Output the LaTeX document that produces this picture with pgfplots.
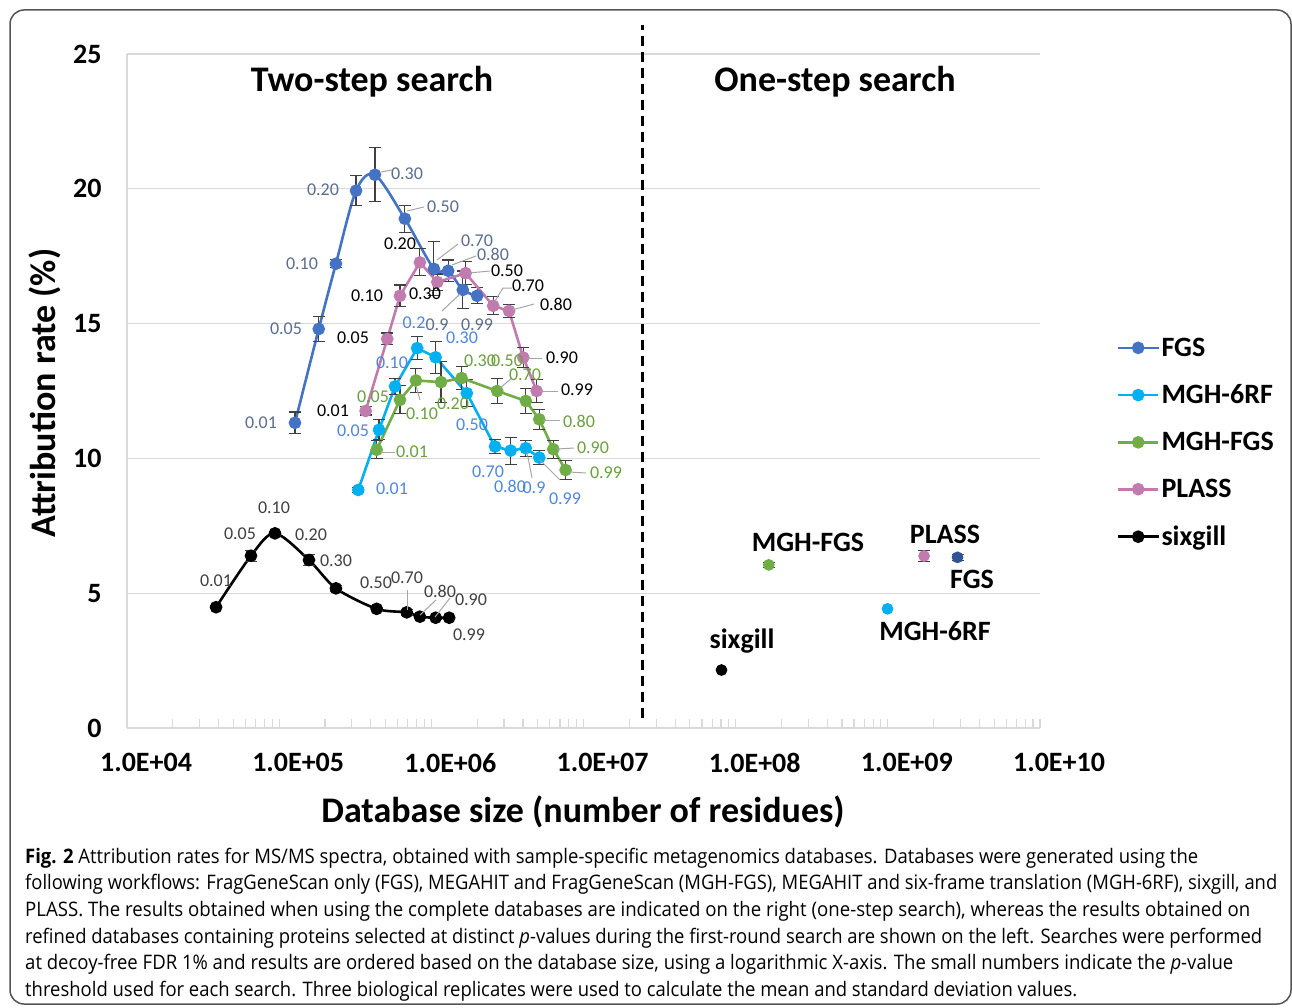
\documentclass[border=0pt]{standalone}
\usepackage{fontspec}
\usepackage{graphicx}
\usepackage{pgfplots}
\pgfplotsset{compat=1.18}
\setmainfont{Carlito}
\newfontfamily\capfont{Open Sans}
\definecolor{cfgs}{HTML}{4472C4}
\definecolor{cfgsd}{HTML}{2F5597}
\definecolor{c6rf}{HTML}{00B0F0}
\definecolor{cmgf}{HTML}{70AD47}
\definecolor{cpl}{HTML}{C27BAE}
\definecolor{lfgs}{HTML}{5A6D8E}
\definecolor{l6rf}{HTML}{4F86DC}
\definecolor{lmgf}{HTML}{6AA03E}
\definecolor{lsix}{HTML}{404040}
\definecolor{gridc}{HTML}{D9D9D9}
\definecolor{errg}{HTML}{404040}
\definecolor{leadc}{HTML}{A6A6A6}
\definecolor{borderc}{HTML}{555555}
\begin{document}
\begin{tikzpicture}
\begin{scope}[x=1pt,y=-1pt]
\useasboundingbox (0,0) rectangle (1292,1008);
\draw[borderc, line width=1.5pt, rounded corners=14pt] (10,10) rectangle (1291,1004);
\end{scope}
\begin{axis}[
  at={(127pt,-728pt)}, anchor=south west,
  scale only axis, width=913pt, height=674pt,
  xmode=log, xmin=1e4, xmax=1e10, ymin=0, ymax=25,
  clip=false,
  axis x line*=bottom, axis y line*=left,
  axis line style={draw=gridc, line width=1.2pt},
  xtick={1e4,1e5,1e6,1e7,1e8,1e9,1e10},
  xticklabels={1.0E+04,1.0E+05,1.0E+06,1.0E+07,1.0E+08,1.0E+09,1.0E+10},
  minor x tick num=8,
  xtick align=inside,
  major tick length=9pt, minor tick length=9pt,
  x tick style={draw=gridc, line width=1.2pt},
  ytick={0,5,10,15,20,25},
  y tick style={draw=none},
  ymajorgrids, major grid style={draw=gridc, line width=1.2pt},
  tick label style={font=\fontsize{28}{30}\selectfont\bfseries},
  /pgf/number format/assume math mode=true,
  xticklabel style={xshift=19pt, yshift=-22pt},
  yticklabel style={xshift=-22pt},
  legend style={at={(1.084,0.582)}, anchor=north west, draw=none, fill=none,
    font=\fontsize{28}{30}\selectfont\bfseries, row sep=23pt, inner sep=0pt,
    legend cell align=left},
  legend image code/.code={\draw[mark repeat=2,mark phase=2,#1] plot coordinates {(0pt,0pt) (20pt,0pt) (40pt,0pt)};},
  every axis plot/.append style={line width=2.6pt},
  error bars/error bar style={line width=1.1pt, color=errg, solid},
  error bars/error mark options={rotate=90, mark size=6pt, line width=1.1pt, color=errg},
]
\addplot[color=cfgs, smooth, mark=*, mark size=5pt, mark options={solid},
  error bars/.cd, y dir=both, y explicit]
  table[x=x, y=y, y error=e] {
x y e
1.27e5 11.32 0.40
1.82e5 14.80 0.45
2.36e5 17.22 0.15
3.20e5 19.93 0.55
4.26e5 20.52 1.00
6.70e5 18.89 0.50
1.04e6 17.03 1.00
1.29e6 16.96 0.40
1.61e6 16.25 0.70
2.00e6 16.03 0.30
};
\addlegendentry{FGS}
\addplot[color=c6rf, mark=*, mark size=5pt,
  error bars/.cd, y dir=both, y explicit]
  table[x=x, y=y, y error=e] {
x y e
3.31e5 8.83 0.10
4.53e5 11.06 0.37
5.77e5 12.67 0.30
8.07e5 14.09 0.43
1.067e6 13.75 0.60
1.71e6 12.42 0.50
2.62e6 10.44 0.25
3.32e6 10.29 0.50
4.17e6 10.38 0.30
5.12e6 10.03 0.25
};
\addlegendentry{MGH-6RF}
\addplot[color=cmgf, mark=*, mark size=5pt,
  error bars/.cd, y dir=both, y explicit]
  table[x=x, y=y, y error=e] {
x y e
4.37e5 10.32 0.33
6.22e5 12.17 0.52
7.92e5 12.89 0.46
1.157e6 12.83 0.77
1.58e6 12.98 0.43
2.71e6 12.50 0.46
4.18e6 12.13 0.46
5.12e6 11.45 0.37
6.33e6 10.34 0.33
7.63e6 9.57 0.34
};
\addlegendentry{MGH-FGS}
\addplot[color=cpl, mark=*, mark size=5pt,
  error bars/.cd, y dir=both, y explicit]
  table[x=x, y=y, y error=e] {
x y e
3.70e5 11.76 0.15
5.13e5 14.43 0.22
6.22e5 16.03 0.40
8.41e5 17.27 0.50
1.094e6 16.54 0.30
1.68e6 16.87 0.43
2.55e6 15.66 0.33
3.24e6 15.47 0.25
4.02e6 13.74 0.37
4.92e6 12.50 0.43
};
\addlegendentry{PLASS}
\addplot[color=black, smooth, mark=*, mark size=5pt,
  error bars/.cd, y dir=both, y explicit]
  table[x=x, y=y, y error=e] {
x y e
3.85e4 4.48 0.05
6.53e4 6.39 0.20
9.38e4 7.22 0.08
1.57e5 6.23 0.20
2.36e5 5.18 0.10
4.37e5 4.42 0.05
6.89e5 4.29 0.10
8.41e5 4.13 0.05
1.067e6 4.09 0.05
1.31e6 4.09 0.05
};
\addlegendentry{sixgill}
% one-step search
\addplot[forget plot, only marks, color=cfgsd, mark=*, mark size=4.5pt,
  error bars/.cd, y dir=both, y explicit]
  table[x=x, y=y, y error=e] {
x y e
2.87e9 6.33 0.12
};
\addplot[forget plot, only marks, color=c6rf, mark=*, mark size=4.5pt]
  table[x=x, y=y] {
x y
9.95e8 4.42
};
\addplot[forget plot, only marks, color=cmgf, mark=*, mark size=4.5pt,
  error bars/.cd, y dir=both, y explicit]
  table[x=x, y=y, y error=e] {
x y e
1.65e8 6.05 0.10
};
\addplot[forget plot, only marks, color=cpl, mark=*, mark size=4.5pt,
  error bars/.cd, y dir=both, y explicit]
  table[x=x, y=y, y error=e] {
x y e
1.73e9 6.38 0.20
};
\addplot[forget plot, only marks, color=black, mark=*, mark size=4.5pt]
  table[x=x, y=y] {
x y
8.07e7 2.15
};
\draw[black, line width=2.5pt, dash pattern=on 10pt off 6pt] (axis cs:2.45e7,0.37) -- (axis cs:2.45e7,26.09);
\end{axis}
\begin{scope}[x=1pt,y=-1pt]
% titles and axis labels
\node[font=\fontsize{36}{40}\selectfont\bfseries] at (372,82) {Two-step search};
\node[font=\fontsize{36}{40}\selectfont\bfseries] at (835,82) {One-step search};
\node[font=\fontsize{36}{40}\selectfont\bfseries] at (583,812) {Database size (number of residues)};
\node[font=\fontsize{36}{40}\selectfont\bfseries, rotate=90] at (45,393) {Attribution rate (\%)};
% one-step labels
\begin{scope}[every node/.style={font=\fontsize{28}{30}\selectfont\bfseries}]
\node at (808,542) {MGH-FGS};
\node at (945,534) {PLASS};
\node at (972,579) {FGS};
\node at (935,631) {MGH-6RF};
\node at (742,641) {sixgill};
\end{scope}
% leader lines
\begin{scope}[leadc, line width=1pt]
\draw (381,172) -- (392,170);
\draw (407,211) -- (424,207);
\draw (437,260) -- (458,244);
\draw (452,265) -- (476,256);
\draw (460,294) -- (442,311);
\draw (469,273) -- (490,271);
\draw (495,301) -- (503,288) -- (512,288);
\draw (512,310) -- (534,304);
\draw (527,358) -- (542,358);
\draw (540,391) -- (558,391);
\draw (381,452) -- (395,452);
\draw (500,388) -- (512,378);
\draw (543,420) -- (560,420);
\draw (557,449) -- (574,448);
\draw (569,472) -- (586,473);
\draw (416,386) -- (420,400);
\draw (527,452) -- (532,478);
\draw (540,460) -- (560,480);
\draw (407,610) -- (407,590);
\draw (420,615) -- (436,600);
\draw (435,617) -- (450,598);
\end{scope}
% point labels
\begin{scope}[every node/.style={font=\fontsize{18}{20}\selectfont, inner sep=0pt}]
\begin{scope}[lfgs]
\node at (261,423) {0.01};
\node at (286,329) {0.05};
\node at (302,264) {0.10};
\node at (323,190) {0.20};
\node at (407,174) {0.30};
\node at (443,207) {0.50};
\node at (477,241) {0.70};
\node at (493,254) {0.80};
\node at (437,325) {0.9};
\node at (477,325) {0.99};
\end{scope}
\begin{scope}[black]
\node at (333,411) {0.01};
\node at (353,338) {0.05};
\node at (367,296) {0.10};
\node at (400,244) {0.20};
\node at (425,294) {0.30};
\node at (507,271) {0.50};
\node at (528,286) {0.70};
\node at (556,304) {0.80};
\node at (562,358) {0.90};
\node at (577,390) {0.99};
\end{scope}
\begin{scope}[l6rf]
\node at (392,489) {0.01};
\node at (353,431) {0.05};
\node at (392,363) {0.10};
\node at (414,323) {0.2};
\node at (462,338) {0.30};
\node at (472,425) {0.50};
\node at (488,472) {0.70};
\node at (510,486) {0.80};
\node at (534,488) {0.9};
\node at (565,499) {0.99};
\end{scope}
\begin{scope}[lmgf]
\node at (412,452) {0.01};
\node at (373,397) {0.05};
\node at (422,414) {0.10};
\node at (453,404) {0.20};
\node at (480,361) {0.30};
\node at (507,361) {0.50};
\node at (525,375) {0.70};
\node at (579,421) {0.80};
\node at (593,448) {0.90};
\node at (606,473) {0.99};
\end{scope}
\begin{scope}[lsix]
\node at (216,581) {0.01};
\node at (240,534) {0.05};
\node at (274,508) {0.10};
\node at (311,535) {0.20};
\node at (336,561) {0.30};
\node at (376,583) {0.50};
\node at (407,578) {0.70};
\node at (440,591) {0.80};
\node at (471,600) {0.90};
\node at (469,635) {0.99};
\end{scope}
\end{scope}
% caption
\begin{scope}[every node/.style={anchor=base west, inner sep=0pt}]
\node at (25,863) {\resizebox{1173pt}{\height}{\capfont\fontsize{20}{24}\selectfont\textbf{Fig. 2} Attribution rates for MS/MS spectra, obtained with sample-specific metagenomics databases. Databases were generated using the}};
\node at (25,889.5) {\resizebox{1252pt}{\height}{\capfont\fontsize{20}{24}\selectfont following workflows: FragGeneScan only (FGS), MEGAHIT and FragGeneScan (MGH-FGS), MEGAHIT and six-frame translation (MGH-6RF), sixgill, and}};
\node at (25,916) {\resizebox{1225pt}{\height}{\capfont\fontsize{20}{24}\selectfont PLASS. The results obtained when using the complete databases are indicated on the right (one-step search), whereas the results obtained on}};
\node at (25,943) {\resizebox{1237pt}{\height}{\capfont\fontsize{20}{24}\selectfont refined databases containing proteins selected at distinct \textit{p}-values during the first-round search are shown on the left. Searches were performed}};
\node at (25,969.5) {\resizebox{1208pt}{\height}{\capfont\fontsize{20}{24}\selectfont at decoy-free FDR 1\% and results are ordered based on the database size, using a logarithmic X-axis. The small numbers indicate the \textit{p}-value}};
\node at (25,996) {\resizebox{1052pt}{\height}{\capfont\fontsize{20}{24}\selectfont threshold used for each search. Three biological replicates were used to calculate the mean and standard deviation values.}};
\end{scope}
\end{scope}
\end{tikzpicture}
\end{document}
